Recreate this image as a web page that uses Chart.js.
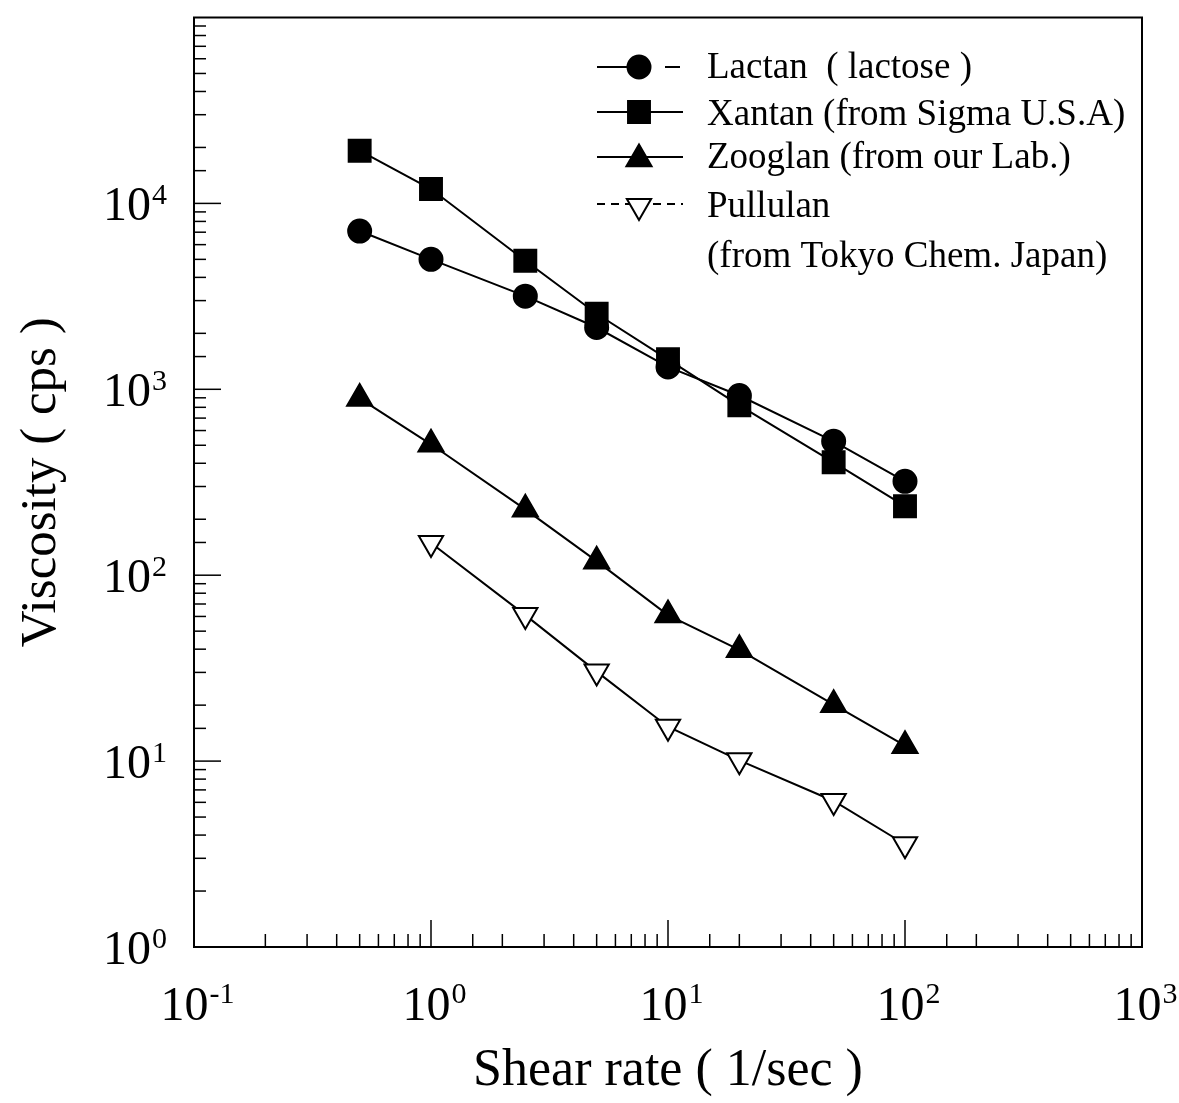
<!DOCTYPE html>
<html>
<head>
<meta charset="utf-8">
<script src="https://cdn.jsdelivr.net/npm/chart.js@4.4.1/dist/chart.umd.min.js"></script>
<style>
  html, body { margin: 0; padding: 0; background: #ffffff; }
  #wrap { width: 1179px; height: 1103px; position: relative; }
</style>
</head>
<body>
<div id="wrap"><canvas id="c"></canvas></div>
<script>
// Shear rate (1/sec) at which viscosity was measured
const shearRate = [0.5, 1, 2.5, 5, 10, 20, 50, 100];
const pullulanRate = [1, 2.5, 5, 10, 20, 50, 100];

// Viscosity (cps)
const lactan   = [7100, 5000, 3170, 2150, 1320, 926, 525, 320];
const xantan   = [19200, 11950, 4910, 2550, 1450, 820, 405, 235];
const zooglan  = [893, 506, 226, 119, 61, 39.7, 20.1, 12.1];
const pullulan = [149, 61, 30.3, 15.3, 10.1, 6.1, 3.57];

// Series names (second line shown under the first in the key)
const seriesNames = [
  ['Lactan  ( lactose )'],
  ['Xantan (from Sigma U.S.A)'],
  ['Zooglan (from our Lab.)'],
  ['Pullulan', '(from Tokyo Chem. Japan)']
];

// Decade exponents labelled on each axis
const xTickExps = [-1, 0, 1, 2, 3];
const yTickExps = [0, 1, 2, 3, 4];

const axisTitleX = 'Shear rate ( 1/sec )';
const axisTitleY = 'Viscosity ( cps )';

const SERIF = '"Liberation Serif", "Times New Roman", serif';
const INK = '#000000';

function pairs(xs, ys) { return xs.map((x, i) => ({ x: x, y: ys[i] })); }
function isDecade(v) { const l = Math.log10(v); return Math.abs(l - Math.round(l)) < 1e-9; }

const markers = [
  { pointStyle: 'circle',   radius: 11.5, rotation: 0,   fill: INK },
  { pointStyle: 'rect',     radius: 15.5, rotation: 0,   fill: INK },
  { pointStyle: 'triangle', radius: 14.5, rotation: 0,   fill: INK },
  { pointStyle: 'triangle', radius: 14,   rotation: 180, fill: '#ffffff' }
];

const seriesData = [
  pairs(shearRate, lactan),
  pairs(shearRate, xantan),
  pairs(shearRate, zooglan),
  pairs(pullulanRate, pullulan)
];

const datasets = seriesData.map((d, i) => ({
  label: seriesNames[i].join(' '),
  data: d,
  borderColor: INK,
  borderWidth: 2,
  pointStyle: markers[i].pointStyle,
  pointRadius: markers[i].radius,
  pointRotation: markers[i].rotation,
  pointBackgroundColor: markers[i].fill,
  pointBorderColor: INK,
  pointBorderWidth: 2,
  tension: 0,
  fill: false
}));

// Frame, inward ticks, decade labels and the key
const decorPlugin = {
  id: 'decor',
  afterDatasetsDraw(chart) {
    const ctx = chart.ctx;
    const a = chart.chartArea;
    const xs = chart.scales.x, ys = chart.scales.y;
    ctx.save();
    ctx.strokeStyle = INK;
    ctx.fillStyle = INK;

    // frame
    ctx.lineWidth = 2;
    ctx.strokeRect(a.left, a.top, a.right - a.left, a.bottom - a.top);

    // ticks pointing into the plot
    ctx.lineWidth = 1.5;
    xs.ticks.forEach(t => {
      const px = xs.getPixelForValue(t.value);
      if (px <= a.left + 1 || px >= a.right - 1) return;
      const len = isDecade(t.value) ? 27 : 13;
      ctx.beginPath();
      ctx.moveTo(px, a.bottom);
      ctx.lineTo(px, a.bottom - len);
      ctx.stroke();
    });
    ys.ticks.forEach(t => {
      const py = ys.getPixelForValue(t.value);
      if (py <= a.top + 1 || py >= a.bottom - 1) return;
      const len = isDecade(t.value) ? 27 : 12;
      ctx.beginPath();
      ctx.moveTo(a.left, py);
      ctx.lineTo(a.left + len, py);
      ctx.stroke();
    });

    // decade labels: "10" with a raised exponent
    const baseFont = '48px ' + SERIF;
    const expFont = '30px ' + SERIF;
    ctx.textBaseline = 'alphabetic';
    ctx.textAlign = 'left';
    xTickExps.forEach(e => {
      const px = xs.getPixelForValue(Math.pow(10, e));
      ctx.font = baseFont;
      const w1 = ctx.measureText('10').width;
      ctx.font = expFont;
      const w2 = ctx.measureText(String(e)).width;
      const x0 = px - (w1 + w2) / 2 + 3;
      ctx.font = baseFont;
      ctx.fillText('10', x0, a.bottom + 73);
      ctx.font = expFont;
      ctx.fillText(String(e), x0 + w1 + 1, a.bottom + 56);
    });
    yTickExps.forEach(e => {
      const py = ys.getPixelForValue(Math.pow(10, e));
      ctx.font = expFont;
      const w2 = ctx.measureText(String(e)).width;
      ctx.font = baseFont;
      const w1 = ctx.measureText('10').width;
      const right = a.left - 27;
      const x0 = right - w2 - w1 - 1;
      ctx.fillText('10', x0, py + 17);
      ctx.font = expFont;
      ctx.fillText(String(e), x0 + w1 + 1, py + 1);
    });

    // key
    const keyLineL = 597, keyLineR = 683, keyMark = 639, keyText = 707;
    const rows = [
      { mark: 67,  line: 67,  text: 78,  dash: null, split: true },
      { mark: 112, line: 112, text: 125, dash: null, split: false },
      { mark: 159, line: 157, text: 168, dash: null, split: false },
      { mark: 206, line: 204, text: 217, dash: [8, 6], split: false }
    ];
    chart.data.datasets.forEach((ds, i) => {
      const r = rows[i];
      ctx.lineWidth = 2;
      ctx.strokeStyle = INK;
      ctx.setLineDash(r.dash || []);
      ctx.beginPath();
      if (r.split) {
        ctx.moveTo(keyLineL, r.line); ctx.lineTo(keyMark, r.line);
        ctx.moveTo(keyMark + 26, r.line); ctx.lineTo(keyMark + 41, r.line);
      } else {
        ctx.moveTo(keyLineL, r.line); ctx.lineTo(keyLineR, r.line);
      }
      ctx.stroke();
      ctx.setLineDash([]);
      ctx.fillStyle = ds.pointBackgroundColor;
      ctx.strokeStyle = INK;
      ctx.lineWidth = 2;
      Chart.helpers.drawPoint(ctx, {
        pointStyle: ds.pointStyle,
        radius: ds.pointRadius,
        rotation: ds.pointRotation,
        borderWidth: 2
      }, keyMark, r.mark);
      ctx.fillStyle = INK;
      ctx.font = '37px ' + SERIF;
      seriesNames[i].forEach((line, k) => {
        ctx.fillText(line, keyText, r.text + k * 50);
      });
    });
    ctx.restore();
  }
};

new Chart(document.getElementById('c'), {
  type: 'line',
  data: { datasets: datasets },
  options: {
    responsive: true,
    maintainAspectRatio: false,
    animation: false,
    layout: { padding: { left: 0, top: 15, right: 37, bottom: 0 } },
    plugins: { legend: { display: false }, tooltip: { enabled: false } },
    scales: {
      x: {
        type: 'logarithmic',
        min: 0.1,
        max: 1000,
        grid: { display: false, drawTicks: false },
        border: { display: false },
        ticks: { display: false },
        title: {
          display: true,
          text: axisTitleX,
          color: INK,
          font: { family: SERIF, size: 52 },
          padding: { top: 0, bottom: 0 }
        },
        afterFit(s) { s.height = 156; }
      },
      y: {
        type: 'logarithmic',
        min: 1,
        max: 100000,
        grid: { display: false, drawTicks: false },
        border: { display: false },
        ticks: { display: false },
        title: {
          display: true,
          text: axisTitleY,
          color: INK,
          font: { family: SERIF, size: 51 },
          padding: { top: 11, bottom: 0 }
        },
        afterFit(s) { s.width = 194; }
      }
    }
  },
  plugins: [decorPlugin]
});
</script>
</body>
</html>
